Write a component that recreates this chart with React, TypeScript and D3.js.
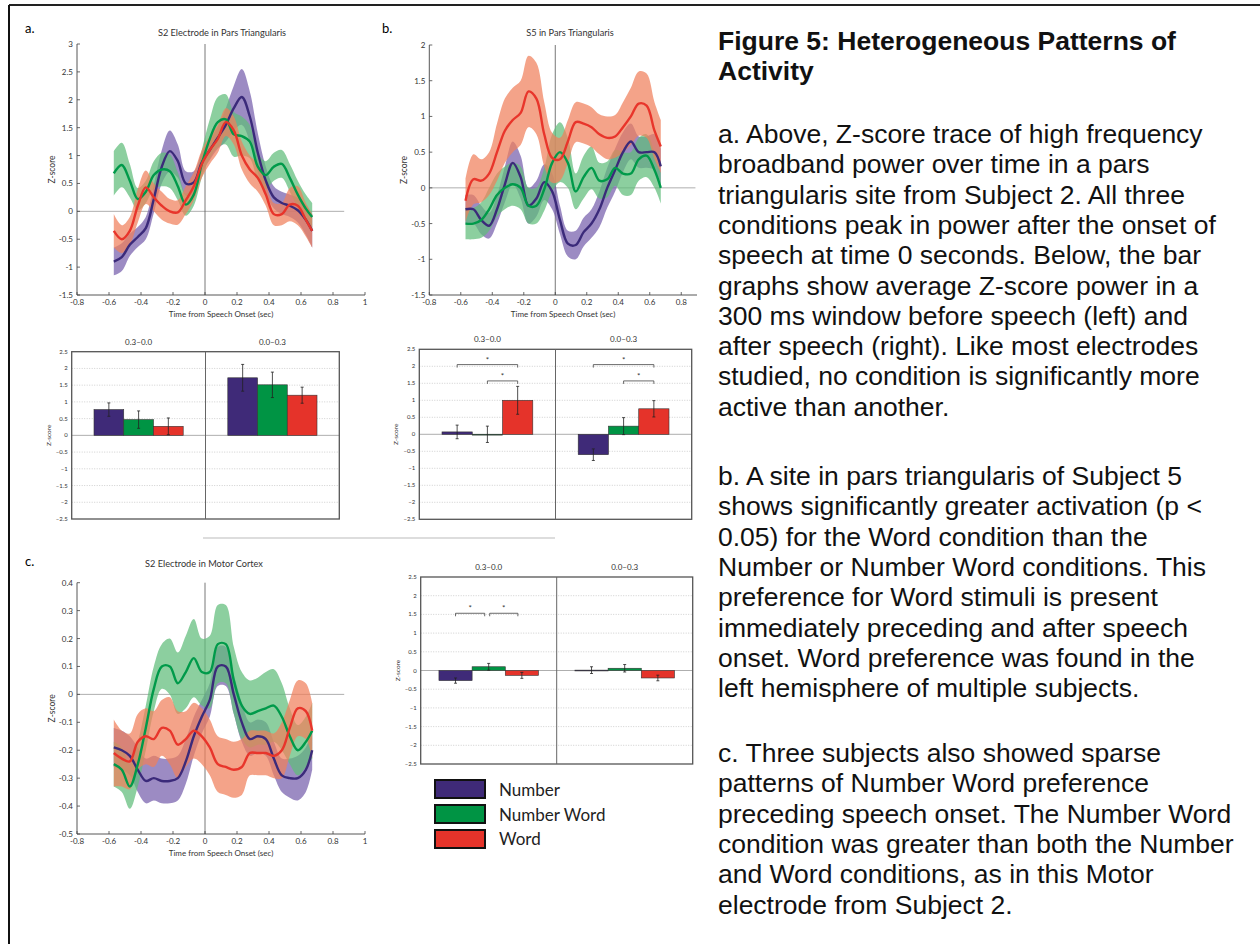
import React from "react";
import * as d3 from "d3";

// time grid shared by all three traces (sec from speech onset)
const times = [-0.57, -0.52, -0.47, -0.42, -0.37, -0.32, -0.27, -0.22, -0.17, -0.12, -0.07, -0.02, 0.03, 0.08, 0.13, 0.18, 0.23, 0.28, 0.33, 0.38, 0.43, 0.48, 0.53, 0.58, 0.63, 0.67];

const conditions = ["Number", "Number Word", "Word"];
const windows = ["0.3\u20130.0", "0.0\u20130.3"];

// panel a: S2 pars triangularis
const aNumber = [-0.9, -0.82, -0.6, -0.46, -0.3, 0.22, 0.8, 1.08, 0.9, 0.5, 0.52, 0.88, 1.1, 1.32, 1.55, 1.85, 2.05, 1.7, 1.05, 0.55, 0.25, 0.15, 0.1, 0.02, -0.15, -0.35];
const aNumberErr = [0.25, 0.25, 0.2, 0.18, 0.2, 0.25, 0.3, 0.37, 0.3, 0.22, 0.2, 0.18, 0.18, 0.2, 0.3, 0.4, 0.5, 0.45, 0.35, 0.25, 0.2, 0.2, 0.2, 0.22, 0.27, 0.3];
const aNumWord = [0.68, 0.83, 0.55, 0.22, 0.35, 0.65, 0.75, 0.72, 0.45, 0.12, 0.3, 0.85, 1.3, 1.6, 1.65, 1.38, 1.35, 1.25, 0.8, 0.65, 0.8, 0.85, 0.6, 0.3, 0.05, -0.1];
const aNumWordErr = [0.4, 0.4, 0.3, 0.2, 0.2, 0.25, 0.3, 0.3, 0.25, 0.2, 0.2, 0.25, 0.35, 0.45, 0.45, 0.4, 0.35, 0.3, 0.25, 0.25, 0.25, 0.25, 0.25, 0.25, 0.25, 0.25];
const aWord = [-0.35, -0.5, -0.35, 0.1, 0.43, 0.25, 0.1, 0.0, -0.02, 0.2, 0.45, 0.85, 1.1, 1.3, 1.6, 1.45, 1.0, 0.75, 0.6, 0.3, -0.05, -0.05, 0.12, 0.1, -0.15, -0.35];
const aWordErr = [0.3, 0.25, 0.25, 0.3, 0.3, 0.25, 0.25, 0.22, 0.22, 0.25, 0.25, 0.25, 0.25, 0.25, 0.25, 0.25, 0.25, 0.25, 0.25, 0.2, 0.2, 0.2, 0.3, 0.35, 0.3, 0.3];

// panel b: S5 pars triangularis
const bNumber = [-0.3, -0.3, -0.45, -0.53, -0.3, 0.05, 0.35, 0.15, -0.25, -0.15, 0.08, -0.05, -0.45, -0.78, -0.8, -0.62, -0.5, -0.3, 0.0, 0.25, 0.5, 0.65, 0.5, 0.5, 0.5, 0.3];
const bNumberErr = [0.2, 0.2, 0.2, 0.18, 0.2, 0.25, 0.3, 0.3, 0.25, 0.25, 0.25, 0.25, 0.2, 0.18, 0.2, 0.2, 0.2, 0.25, 0.28, 0.3, 0.28, 0.25, 0.22, 0.22, 0.25, 0.25];
const bNumWord = [-0.5, -0.5, -0.45, -0.3, -0.1, 0.0, 0.05, 0.0, -0.25, -0.25, -0.02, 0.35, 0.5, 0.35, -0.05, 0.15, 0.28, 0.1, 0.12, 0.28, 0.2, 0.2, 0.4, 0.45, 0.25, 0.0];
const bNumWordErr = [0.22, 0.22, 0.25, 0.3, 0.3, 0.3, 0.3, 0.3, 0.25, 0.25, 0.3, 0.4, 0.42, 0.35, 0.25, 0.3, 0.3, 0.25, 0.25, 0.25, 0.3, 0.3, 0.3, 0.3, 0.25, 0.22];
const bWord = [-0.18, 0.12, 0.1, 0.2, 0.5, 0.8, 0.95, 1.05, 1.35, 1.25, 0.75, 0.42, 0.4, 0.65, 0.92, 0.9, 0.85, 0.75, 0.7, 0.72, 0.85, 1.0, 1.18, 1.15, 0.8, 0.58];
const bWordErr = [0.3, 0.35, 0.3, 0.3, 0.4, 0.45, 0.45, 0.45, 0.5, 0.5, 0.45, 0.35, 0.3, 0.3, 0.28, 0.28, 0.28, 0.28, 0.3, 0.3, 0.35, 0.4, 0.45, 0.45, 0.4, 0.37];

// panel c: S2 motor cortex
const cNumber = [-0.19, -0.2, -0.22, -0.27, -0.31, -0.3, -0.31, -0.31, -0.3, -0.24, -0.15, -0.08, -0.02, 0.1, 0.1, 0.0, -0.1, -0.16, -0.15, -0.16, -0.23, -0.29, -0.3, -0.3, -0.27, -0.2];
const cNumberErr = [0.07, 0.07, 0.07, 0.08, 0.08, 0.08, 0.08, 0.08, 0.08, 0.08, 0.07, 0.06, 0.06, 0.07, 0.07, 0.07, 0.07, 0.06, 0.06, 0.06, 0.06, 0.06, 0.07, 0.08, 0.08, 0.07];
const cNumWord = [-0.25, -0.27, -0.33, -0.25, -0.12, 0.02, 0.1, 0.1, 0.04, 0.08, 0.13, 0.08, 0.08, 0.18, 0.18, 0.05, -0.04, -0.07, -0.06, -0.05, -0.04, -0.08, -0.15, -0.2, -0.17, -0.13];
const cNumWordErr = [0.08, 0.08, 0.08, 0.08, 0.08, 0.08, 0.08, 0.1, 0.11, 0.13, 0.14, 0.12, 0.13, 0.14, 0.14, 0.12, 0.12, 0.12, 0.12, 0.13, 0.13, 0.12, 0.1, 0.09, 0.09, 0.1];
const cWord = [-0.21, -0.23, -0.24, -0.17, -0.15, -0.16, -0.12, -0.13, -0.18, -0.16, -0.13, -0.15, -0.19, -0.25, -0.26, -0.27, -0.26, -0.21, -0.21, -0.21, -0.22, -0.2, -0.12, -0.05, -0.06, -0.13];
const cWordErr = [0.12, 0.1, 0.1, 0.1, 0.1, 0.1, 0.1, 0.12, 0.12, 0.1, 0.1, 0.1, 0.1, 0.1, 0.1, 0.1, 0.1, 0.08, 0.08, 0.08, 0.08, 0.1, 0.1, 0.1, 0.1, 0.1];

// window averages: [pre, post] per condition, with error half-widths
const aBarMean = [[0.77, 0.47, 0.27], [1.72, 1.51, 1.2]];
const aBarErr = [[0.2, 0.26, 0.25], [0.4, 0.38, 0.24]];
const bBarMean = [[0.07, 0.0, 1.0], [-0.6, 0.24, 0.75]];
const bBarErr = [[0.2, 0.24, 0.41], [0.17, 0.25, 0.24]];
const cBarMean = [[-0.27, 0.1, -0.13], [0.01, 0.06, -0.2]];
const cBarErr = [[0.07, 0.09, 0.08], [0.09, 0.1, 0.075]];

// significance brackets: window, from condition, to condition, height
const bSig = [[0, 0, 2, 2.05], [0, 1, 2, 1.57], [1, 0, 2, 2.05], [1, 1, 2, 1.57]];
const cSig = [[0, 0, 1, 1.53], [0, 1, 2, 1.53]];

const lineTicksX = [-0.8, -0.6, -0.4, -0.2, 0, 0.2, 0.4, 0.6, 0.8, 1];
const aTicksY = [-1.5, -1, -0.5, 0, 0.5, 1, 1.5, 2, 2.5, 3];
const bTicksY = [-1.5, -1, -0.5, 0, 0.5, 1, 1.5, 2];
const cTicksY = [-0.5, -0.4, -0.3, -0.2, -0.1, 0, 0.1, 0.2, 0.3, 0.4];
const barTicksY = [-2.5, -2, -1.5, -1, -0.5, 0, 0.5, 1, 1.5, 2, 2.5];

const captionTitle = ["Figure 5: Heterogeneous Patterns of", "Activity"];
const captionA = [
  "a. Above, Z-score trace of high frequency",
  "broadband power over time in a pars",
  "triangularis site from Subject 2. All three",
  "conditions peak in power after the onset of",
  "speech at time 0 seconds. Below, the bar",
  "graphs show average Z-score power in a",
  "300 ms window before speech (left) and",
  "after speech (right). Like most electrodes",
  "studied, no condition is significantly more",
  "active than another.",
];
const captionB = [
  "b. A site in pars triangularis of Subject 5",
  "shows significantly greater activation (p <",
  "0.05) for the Word condition than the",
  "Number or Number Word conditions. This",
  "preference for Word stimuli is present",
  "immediately preceding and after speech",
  "onset. Word preference was found in the",
  "left hemisphere of multiple subjects.",
];
const captionC = [
  "c. Three subjects also showed sparse",
  "patterns of Number Word preference",
  "preceding speech onset. The Number Word",
  "condition was greater than both the Number",
  "and Word conditions, as in this Motor",
  "electrode from Subject 2.",
];

const LINE = ["#3b2a7a", "#009a4a", "#e8352b"];
const BAND = ["#765eac", "#5fbd7a", "#f07f5c"];
const BAR = ["#3f2a78", "#009444", "#e5332a"];
const SMALL = "'Liberation Sans Narrow', Lato, sans-serif";

const fmt = (v: number) => String(Math.round(v * 10) / 10);
const fmtBar = (v: number) => (v < 0 ? "\u2013" + fmt(-v) : fmt(v));

function LinePanel(props: any) {
  const { xRange, xDomain, yRange, yDomain, yTicks, xTicks, series, errs, title, titleY, letter, letterY, zeroEnd } = props;
  const x = d3.scaleLinear().domain(xDomain).range(xRange);
  const y = d3.scaleLinear().domain(yDomain).range(yRange);
  const curve = d3.curveCatmullRom.alpha(0.5);
  const area = d3.area<number>().x((_, i) => x(times[i])).curve(curve);
  const line = d3.line<number>().x((_, i) => x(times[i])).curve(curve);
  const bottom = y(yDomain[0]);
  const top = y(yDomain[1]);
  const left = x(xDomain[0]);
  const cx = (x(xDomain[0]) + x(xDomain[1])) / 2;
  return (
    <g>
      <text x={letter[0]} y={letterY} fontSize={13} fontFamily="Lato, sans-serif">{letter[1]}</text>
      <text x={title[0]} y={titleY} fontSize={9.2} textAnchor="middle" fontFamily={SMALL} fill="#333">{title[1]}</text>
      <line x1={left} x2={x(zeroEnd)} y1={y(0)} y2={y(0)} stroke="#999" strokeWidth={0.8} />
      <line x1={x(0)} x2={x(0)} y1={top} y2={bottom} stroke="#555" strokeWidth={0.8} />
      {series.map((s: number[], k: number) => (
        <path key={"b" + k} d={area.y0((d, i) => y(d - errs[k][i])).y1((d, i) => y(d + errs[k][i]))(s) || ""} fill={BAND[k]} opacity={0.72} />
      ))}
      {series.map((s: number[], k: number) => (
        <path key={"l" + k} d={line.y((d) => y(d))(s) || ""} fill="none" stroke={LINE[k]} strokeWidth={2.4} />
      ))}
      <line x1={left} x2={left} y1={top} y2={bottom} stroke="#444" strokeWidth={0.9} />
      <line x1={left} x2={x(xDomain[1])} y1={bottom} y2={bottom} stroke="#444" strokeWidth={0.9} />
      {yTicks.map((v: number) => (
        <g key={"y" + v}>
          <line x1={left} x2={left + 3} y1={y(v)} y2={y(v)} stroke="#444" strokeWidth={0.8} />
          <text x={left - 4} y={y(v) + 3} fontSize={8} textAnchor="end" fontFamily={SMALL} fill="#333">{fmt(v)}</text>
        </g>
      ))}
      {xTicks.map((v: number) => (
        <g key={"x" + v}>
          <line x1={x(v)} x2={x(v)} y1={bottom} y2={bottom - 3} stroke="#444" strokeWidth={0.8} />
          <text x={x(v)} y={bottom + 10} fontSize={8} textAnchor="middle" fontFamily={SMALL} fill="#333">{fmt(v)}</text>
        </g>
      ))}
      <text x={cx} y={bottom + 22} fontSize={8} textAnchor="middle" fontFamily={SMALL} fill="#333">Time from Speech Onset (sec)</text>
      <text transform={`translate(${left - 22},${(top + bottom) / 2}) rotate(-90)`} fontSize={8.5} textAnchor="middle" fontFamily={SMALL} fill="#333">Z-score</text>
    </g>
  );
}

function BarPanel(props: any) {
  const { box, means, errs, pad, sig } = props;
  const [x0, x1, y0, y1] = box;
  const y = d3.scaleLinear().domain([-2.5, 2.5]).range([y1, y0]);
  const win = d3.scaleBand().domain(windows).range([x0, x1]);
  const inner = d3.scaleBand().domain(conditions).range([0, win.bandwidth()]).paddingOuter(pad);
  const bw = inner.bandwidth();
  const cxOf = (w: number, c: number) => (win(windows[w]) || 0) + (inner(conditions[c]) || 0) + bw / 2;
  return (
    <g>
      {barTicksY.filter((v) => v !== 0 && Math.abs(v) < 2.5).map((v) => (
        <line key={"g" + v} x1={x0} x2={x1} y1={y(v)} y2={y(v)} stroke="#bbb" strokeWidth={0.7} strokeDasharray="1,1.5" />
      ))}
      <line x1={x0} x2={x1} y1={y(0)} y2={y(0)} stroke="#999" strokeWidth={0.8} />
      {means.map((grp: number[], w: number) =>
        grp.map((m: number, c: number) => (
          <rect key={`r${w}${c}`} x={(win(windows[w]) || 0) + (inner(conditions[c]) || 0)} width={bw}
            y={Math.min(y(m), y(0))} height={Math.max(Math.abs(y(m) - y(0)), 0.8)} fill={BAR[c]} stroke="#333" strokeWidth={0.6} />
        ))
      )}
      {means.map((grp: number[], w: number) =>
        grp.map((m: number, c: number) => {
          const cx = cxOf(w, c);
          const e = errs[w][c];
          return (
            <g key={`e${w}${c}`} stroke="#222" strokeWidth={0.8}>
              <line x1={cx} x2={cx} y1={y(m + e)} y2={y(m - e)} />
              <line x1={cx - 1.5} x2={cx + 1.5} y1={y(m + e)} y2={y(m + e)} />
              <line x1={cx - 1.5} x2={cx + 1.5} y1={y(m - e)} y2={y(m - e)} />
            </g>
          );
        })
      )}
      {sig.map((s: number[], i: number) => {
        const a = cxOf(s[0], s[1]) + (s[1] === 1 && s[2] === 2 && sig.length === 2 ? 1 : 0);
        const b = cxOf(s[0], s[2]) - (sig.length === 2 ? 4 : 0);
        const yy = y(s[3]);
        return (
          <g key={"s" + i}>
            <path d={`M${a},${yy + 3}V${yy}H${b}V${yy + 3}`} fill="none" stroke="#444" strokeWidth={0.8} />
            <text x={(a + b) / 2} y={yy - 2} fontSize={8} textAnchor="middle" fontFamily={SMALL} fill="#333">*</text>
          </g>
        );
      })}
      <rect x={x0} y={y0} width={x1 - x0} height={y1 - y0} fill="none" stroke="#555" strokeWidth={1.3} />
      <line x1={(x0 + x1) / 2} x2={(x0 + x1) / 2} y1={y0} y2={y1} stroke="#666" strokeWidth={1} />
      {barTicksY.map((v) => (
        <text key={"t" + v} x={x0 - 4} y={y(v) + 2} fontSize={6} textAnchor="end" fontFamily={SMALL} fill="#333">{fmtBar(v)}</text>
      ))}
      {windows.map((w) => (
        <text key={w} x={(win(w) || 0) + win.bandwidth() / 2} y={y0 - 7} fontSize={8} textAnchor="middle" fontFamily={SMALL} fill="#333">{w}</text>
      ))}
      <text transform={`translate(${x0 - 21},${y(0)}) rotate(-90)`} fontSize={6.5} textAnchor="middle" fontFamily={SMALL} fill="#333">Z-score</text>
    </g>
  );
}

function Caption() {
  const lh = 30.3;
  const block = (lines: string[], start: number, bold = false) =>
    lines.map((t, i) => (
      <text key={t} x={718} y={start + i * lh} fontSize={26.5} fontWeight={bold ? "bold" : "normal"} fontFamily="'Liberation Sans', Arial, sans-serif" fill="#111">{t}</text>
    ));
  return (
    <g>
      {block(captionTitle, 50, true)}
      {block(captionA, 143)}
      {block(captionB, 485)}
      {block(captionC, 762)}
    </g>
  );
}

export default function App() {
  return (
    <svg width={1260} height={944} style={{ position: "absolute", left: 0, top: 0, background: "#fff" }}>
      <rect width={1260} height={944} fill="#fff" />
      <line x1={9} x2={1260} y1={5} y2={5} stroke="#222" strokeWidth={2} />
      <line x1={9} x2={9} y1={5} y2={944} stroke="#111" strokeWidth={2} />

      <LinePanel xRange={[77, 365]} xDomain={[-0.8, 1]} yRange={[295, 44]} yDomain={[-1.5, 3]}
        yTicks={aTicksY} xTicks={lineTicksX} zeroEnd={0.87}
        series={[aNumber, aNumWord, aWord]} errs={[aNumberErr, aNumWordErr, aWordErr]}
        title={[222, "S2 Electrode in Pars Triangularis"]} titleY={36} letter={[25, "a."]} letterY={33} />
      <LinePanel xRange={[429.3, 697]} xDomain={[-0.8, 0.9]} yRange={[295, 45]} yDomain={[-1.5, 2]}
        yTicks={bTicksY} xTicks={lineTicksX.slice(0, 9)} zeroEnd={0.89}
        series={[bNumber, bNumWord, bWord]} errs={[bNumberErr, bNumWordErr, bWordErr]}
        title={[570, "S5 in Pars Triangularis"]} titleY={36} letter={[382, "b."]} letterY={33} />
      <LinePanel xRange={[77, 365]} xDomain={[-0.8, 1]} yRange={[834, 582.7]} yDomain={[-0.5, 0.4]}
        yTicks={cTicksY} xTicks={lineTicksX} zeroEnd={0.87}
        series={[cNumber, cNumWord, cWord]} errs={[cNumberErr, cNumWordErr, cWordErr]}
        title={[204, "S2 Electrode in Motor Cortex"]} titleY={567} letter={[25, "c."]} letterY={566} />

      <BarPanel box={[71.7, 339.3, 351.7, 519]} means={aBarMean} errs={aBarErr} pad={0.75} sig={[]} />
      <BarPanel box={[419.3, 691.7, 349.3, 519.3]} means={bBarMean} errs={bBarErr} pad={0.75} sig={bSig} />
      <BarPanel box={[420.7, 692.7, 577, 764]} means={cBarMean} errs={cBarErr} pad={0.55} sig={cSig} />

      <line x1={203} x2={555} y1={538} y2={538} stroke="#ddd" strokeWidth={2} />

      {conditions.map((c, i) => (
        <g key={c}>
          <rect x={435} y={780 + i * 25} width={50} height={18} fill={BAR[i]} stroke="#111" strokeWidth={2} />
          <text x={499} y={796 + i * 24.5} fontSize={17} fontFamily="Lato, sans-serif" fill="#222">{c}</text>
        </g>
      ))}

      <Caption />
    </svg>
  );
}
